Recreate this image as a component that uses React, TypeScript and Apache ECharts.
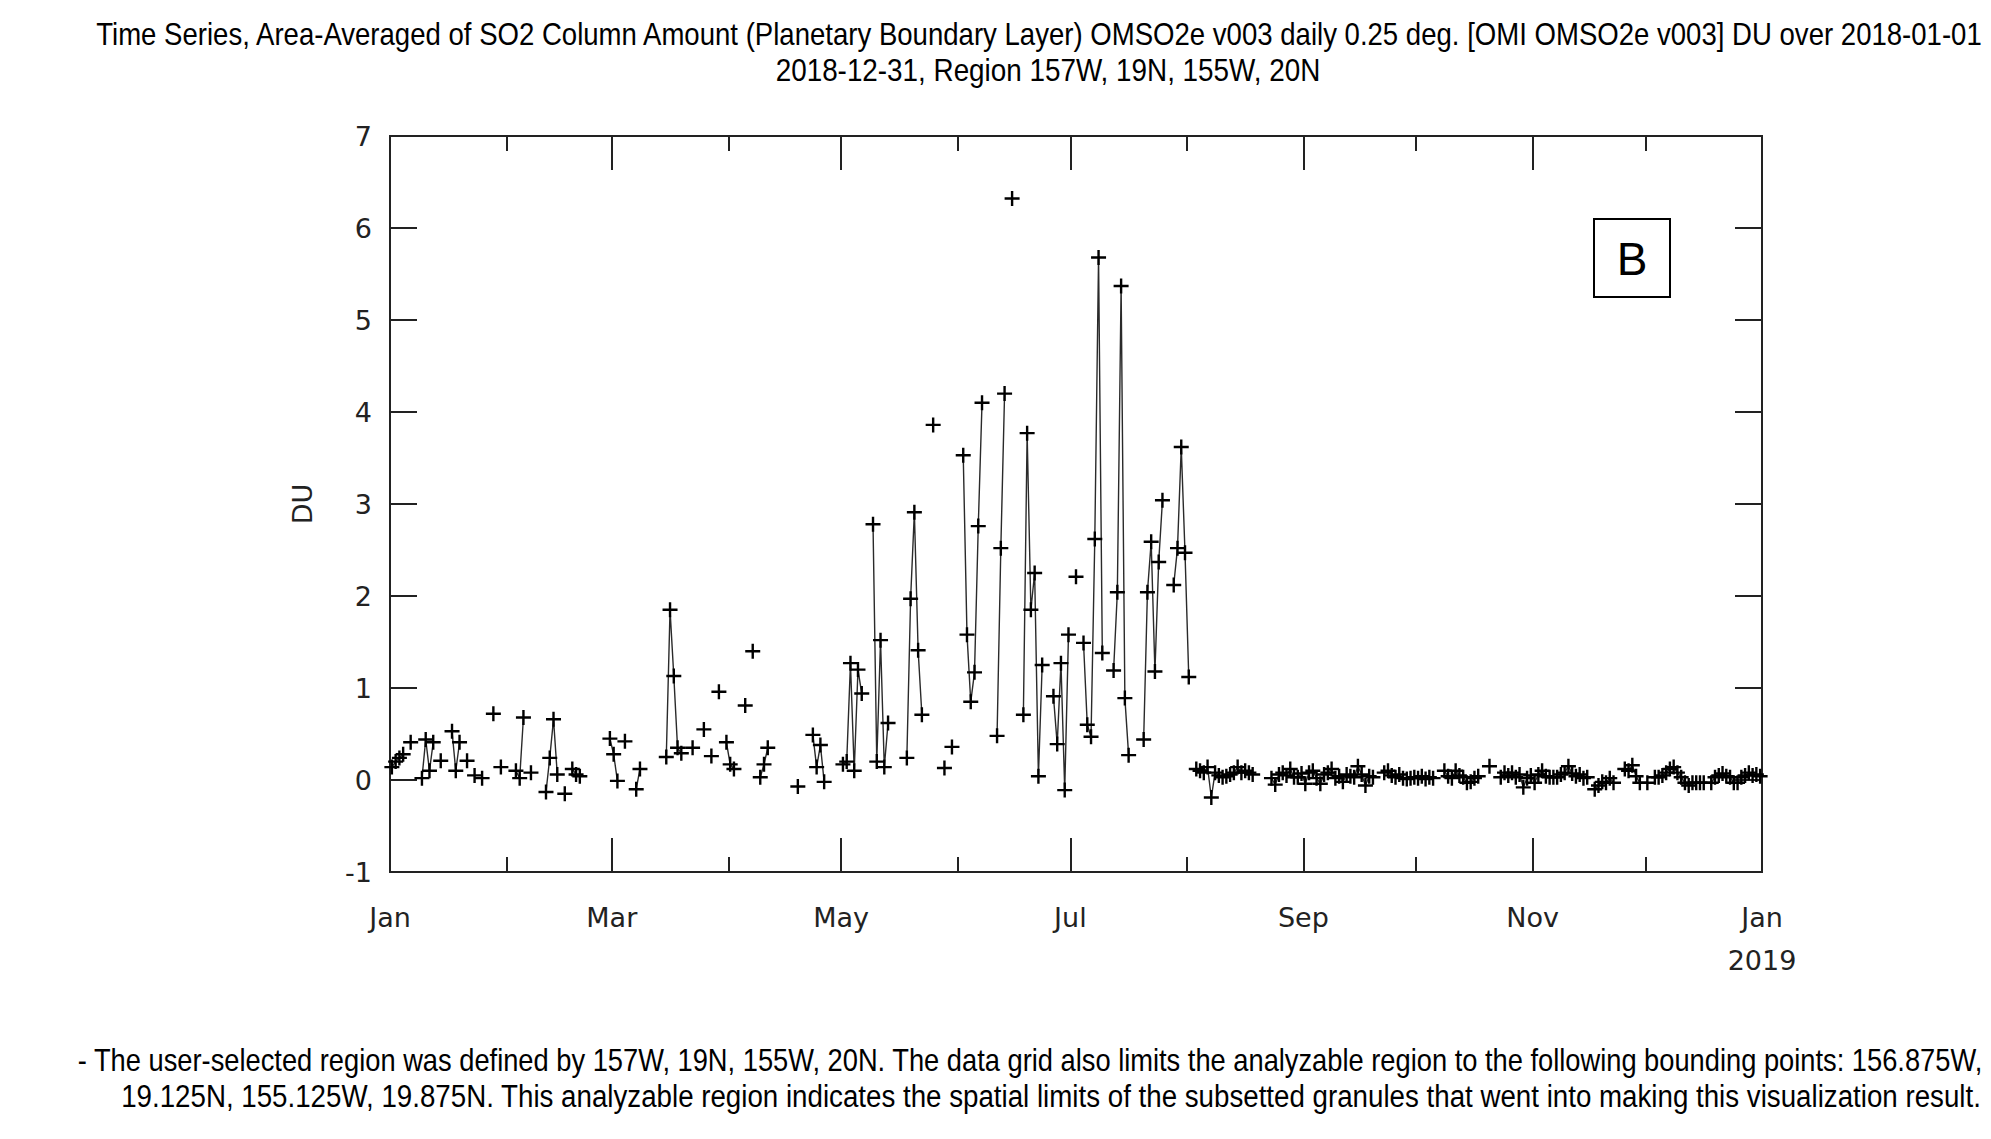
import React, { useEffect, useRef } from "react";
import * as echarts from "echarts";

// Daily area-averaged SO2 (DU), 2018; null = no data that day
const jan = [0.14, 0.20, 0.24, 0.28, null, 0.41, null, null, 0.02, 0.44, 0.10, 0.41, null, 0.21, null, null, 0.53, 0.10, 0.41, null, 0.21, null, 0.05, null, 0.02, null, null, 0.72, null, 0.14, null];
const feb = [null, null, 0.10, 0.02, 0.68, null, 0.08, null, null, null, -0.13, 0.24, 0.66, 0.06, null, -0.15, null, 0.12, 0.06, 0.04, null, null, null, null, null, null, null, 0.45];
const mar = [0.28, -0.01, null, 0.42, null, null, -0.10, 0.12, null, null, null, null, null, null, 0.25, 1.85, 1.13, 0.35, 0.29, null, null, 0.35, null, null, 0.55, null, 0.26, null, 0.96, null, 0.41];
const apr = [0.17, 0.12, null, null, 0.81, null, 1.40, null, 0.03, 0.17, 0.35, null, null, null, null, null, null, null, -0.07, null, null, null, 0.49, 0.14, 0.38, -0.02, null, null, null, null];
const may = [0.17, 0.20, 1.27, 0.10, 1.20, 0.94, null, null, 2.78, 0.20, 1.52, 0.14, 0.62, null, null, null, null, 0.24, 1.97, 2.91, 1.41, 0.71, null, null, 3.86, null, null, 0.13, null, 0.36, null];
const jun = [null, 3.53, 1.58, 0.85, 1.17, 2.76, 4.10, null, null, null, 0.48, 2.52, 4.20, null, 6.32, null, null, 0.71, 3.77, 1.85, 2.25, 0.04, 1.25, null, null, 0.91, 0.39, 1.27, -0.11, 1.58];
const jul = [null, 2.21, null, 1.49, 0.60, 0.47, 2.62, 5.68, 1.38, null, null, 1.19, 2.04, 5.37, 0.89, 0.27, null, null, null, 0.44, 2.04, 2.59, 1.18, 2.37, 3.04, null, null, 2.12, 2.52, 3.62, 2.47];
const aug = [1.12, null, 0.12, 0.10, 0.08, 0.14, -0.19, 0.08, 0.05, 0.03, 0.04, 0.06, 0.08, 0.14, 0.08, 0.10, 0.08, 0.06, null, null, null, null, 0.02, -0.05, 0.06, 0.08, 0.05, 0.12, 0.03, 0.03, 0.07];
const sep = [-0.04, 0.08, 0.10, 0.02, -0.04, 0.06, 0.08, 0.12, 0.02, 0.04, -0.02, 0.06, 0.04, 0.03, 0.15, 0.06, -0.06, 0.04, 0.03, null, null, 0.08, 0.10, 0.05, 0.03, 0.06, 0.02, 0.01, 0.02, 0.03];
const oct = [0.02, 0.04, 0.01, 0.03, 0.02, null, null, 0.10, 0.04, 0.02, 0.10, 0.05, 0.03, -0.03, -0.02, 0.02, 0.04, null, null, 0.15, null, null, 0.03, 0.08, 0.05, 0.08, 0.03, 0.06, -0.08, 0.02, 0.05];
const nov = [-0.03, 0.06, 0.10, 0.04, 0.03, 0.03, 0.03, 0.06, 0.08, 0.15, 0.07, 0.04, 0.06, 0.02, 0.03, null, -0.10, -0.06, -0.02, -0.03, 0.02, -0.03, null, null, 0.12, 0.10, 0.16, 0.04, -0.03, null];
const dec = [-0.03, null, 0.03, 0.03, 0.05, 0.08, 0.12, 0.14, 0.08, 0.03, -0.03, -0.06, -0.03, -0.03, -0.03, -0.03, null, -0.03, 0.03, 0.05, 0.07, 0.04, 0.03, -0.03, -0.03, 0.03, 0.05, 0.08, 0.05, 0.06, 0.04];

const MONTHS = [jan, feb, mar, apr, may, jun, jul, aug, sep, oct, nov, dec];

// x axis in days since 2018-01-01
const X_MIN = 0;
const X_MAX = 365;
const MAJOR_TICK_DAYS = [0, 59, 120, 181, 243, 304, 365];
const MAJOR_TICK_LABELS = ["Jan", "Mar", "May", "Jul", "Sep", "Nov", "Jan\n2019"];
const MINOR_TICK_DAYS = [31, 90, 151, 212, 273, 334];

const Y_MIN = -1;
const Y_MAX = 7;
const Y_INTERVAL = 1;
const Y_NAME = "DU";

const TITLE_LINES = [
  "Time Series, Area-Averaged of SO2 Column Amount (Planetary Boundary Layer) OMSO2e v003 daily 0.25 deg. [OMI OMSO2e v003] DU over 2018-01-01",
  "2018-12-31, Region 157W, 19N, 155W, 20N",
];
const FOOTNOTE_LINES = [
  "- The user-selected region was defined by 157W, 19N, 155W, 20N. The data grid also limits the analyzable region to the following bounding points: 156.875W,",
  "19.125N, 155.125W, 19.875N. This analyzable region indicates the spatial limits of the subsetted granules that went into making this visualization result.",
];
const PANEL_LABEL = "B";

const PLUS = "path://M42,0H58V42H100V58H58V100H42V58H0V42H42Z";
const AXIS_COLOR = "#222";
const TICK_FONT = "DejaVu Sans";
const TEXT_FONT = "Liberation Sans";
const TEXT_SIZE = 31;

// condensed text lines: [text, centerX, centerY, targetWidth]
function textLayout() {
  return [
    { text: TITLE_LINES[0], cx: 1039, cy: 34, w: 1888 },
    { text: TITLE_LINES[1], cx: 1048, cy: 70, w: 545 },
    { text: FOOTNOTE_LINES[0], cx: 1030, cy: 1060, w: 1906 },
    { text: FOOTNOTE_LINES[1], cx: 1051, cy: 1096, w: 1860 },
  ];
}

export default function App() {
  const ref = useRef<HTMLDivElement>(null);

  useEffect(() => {
    document.body.style.margin = "0";
    const chart = echarts.init(ref.current as HTMLDivElement, null, { renderer: "svg" });

    const daily: (number | null)[] = ([] as (number | null)[]).concat(...MONTHS);
    const seriesData = daily.map((v, i) => [i + 0.5, v === null ? "-" : v]);

    const cvs = document.createElement("canvas");
    const ctx = cvs.getContext("2d") as CanvasRenderingContext2D;
    ctx.font = `${TEXT_SIZE}px "${TEXT_FONT}"`;
    const textEls = textLayout().map((l) => {
      const natural = ctx.measureText(l.text).width || l.w;
      return {
        type: "text",
        x: l.cx,
        y: l.cy,
        scaleX: l.w / natural,
        style: {
          text: l.text,
          fill: "#000",
          font: `${TEXT_SIZE}px "${TEXT_FONT}"`,
          textAlign: "center",
          textVerticalAlign: "middle",
        },
      };
    });

    const axisLine = { show: true, onZero: false, lineStyle: { color: AXIS_COLOR, width: 2 } };
    const xBase = {
      type: "value",
      min: X_MIN,
      max: X_MAX,
      splitLine: { show: false },
      axisLine,
    };
    const majorTick = { show: true, inside: true, length: 34, customValues: MAJOR_TICK_DAYS, lineStyle: { color: AXIS_COLOR, width: 2 } };
    const minorTick = { show: true, inside: true, length: 15, customValues: MINOR_TICK_DAYS, lineStyle: { color: AXIS_COLOR, width: 2 } };

    const yBase = {
      type: "value",
      min: Y_MIN,
      max: Y_MAX,
      interval: Y_INTERVAL,
      splitLine: { show: false },
      axisLine,
      axisTick: { show: true, inside: true, length: 27, lineStyle: { color: AXIS_COLOR, width: 2 } },
    };

    const option: any = {
      animation: false,
      backgroundColor: "#ffffff",
      grid: { left: 390, top: 136, width: 1372, height: 736, containLabel: false },
      xAxis: [
        {
          ...xBase,
          position: "bottom",
          axisTick: majorTick,
          axisLabel: {
            show: true,
            customValues: MAJOR_TICK_DAYS,
            formatter: (v: number) => {
              const i = MAJOR_TICK_DAYS.indexOf(Math.round(v));
              return i >= 0 ? MAJOR_TICK_LABELS[i] : "";
            },
            fontFamily: TICK_FONT,
            fontSize: 27,
            color: AXIS_COLOR,
            margin: 24,
            lineHeight: 43,
          },
        },
        { ...xBase, position: "bottom", axisTick: minorTick, axisLabel: { show: false } },
        { ...xBase, position: "top", axisTick: majorTick, axisLabel: { show: false } },
        { ...xBase, position: "top", axisTick: minorTick, axisLabel: { show: false } },
      ],
      yAxis: [
        {
          ...yBase,
          position: "left",
          axisLabel: { show: true, fontFamily: TICK_FONT, fontSize: 27, color: AXIS_COLOR, margin: 18 },
          name: Y_NAME,
          nameLocation: "middle",
          nameRotate: 90,
          nameGap: 74,
          nameTextStyle: { fontFamily: TICK_FONT, fontSize: 27, color: AXIS_COLOR },
        },
        { ...yBase, position: "right", axisLabel: { show: false } },
      ],
      series: [
        {
          type: "line",
          xAxisIndex: 0,
          yAxisIndex: 0,
          data: seriesData,
          connectNulls: false,
          symbol: PLUS,
          symbolSize: 15,
          symbolKeepAspect: true,
          showSymbol: true,
          showAllSymbol: true,
          lineStyle: { color: "#2a2a2a", width: 1.4 },
          itemStyle: { color: "#000" },
          emphasis: { disabled: true },
          silent: true,
          z: 3,
        },
      ],
      graphic: [
        ...textEls,
        {
          type: "rect",
          shape: { x: 1594, y: 219, width: 76, height: 78 },
          style: { fill: "#fff", stroke: "#000", lineWidth: 2 },
          z: 10,
        },
        {
          type: "text",
          x: 1632,
          y: 259,
          style: { text: PANEL_LABEL, fill: "#000", font: `46px "Liberation Sans"`, textAlign: "center", textVerticalAlign: "middle" },
          z: 11,
        },
      ],
    };

    chart.setOption(option);
    return () => chart.dispose();
  }, []);

  return <div ref={ref} style={{ width: 1991, height: 1139 }} />;
}
